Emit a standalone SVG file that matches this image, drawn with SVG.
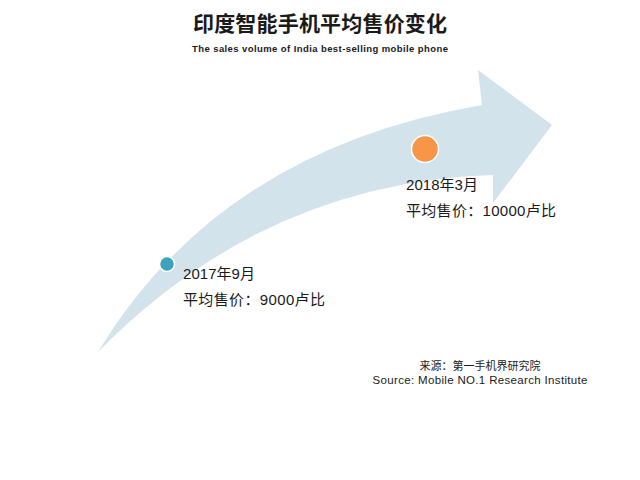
<svg xmlns="http://www.w3.org/2000/svg" width="640" height="480" viewBox="0 0 640 480">
<style>
.t{font-family:"Liberation Sans","Noto Sans CJK SC",sans-serif;fill:#1a1a1a}
.lbl{font-size:15px}
</style>
<rect width="640" height="480" fill="#ffffff"/>
<g id="arrow">
<path d="M98,352 Q220,150 482,105 L478,70 L552,125 L493,203 L493,175 Q265,182 98,352 Z" fill="#d3e3ec"/>
</g>
<g id="title">
<text class="t" x="320" y="31" text-anchor="middle" font-size="21" font-weight="bold" textLength="254">印度智能手机平均售价变化</text>
<text class="t" x="320" y="52" text-anchor="middle" font-size="9.5" font-weight="bold" textLength="256">The sales volume of India best-selling  mobile phone</text>
</g>
<g id="node2017">
<circle cx="167" cy="264" r="7.5" fill="#3ba3bc" stroke="#ffffff" stroke-width="1.5"/>
<text class="t lbl" x="183" y="279" textLength="72">2017年9月</text>
<text class="t lbl" x="183" y="305" textLength="142">平均售价：9000卢比</text>
</g>
<g id="node2018">
<circle cx="425" cy="149" r="13.5" fill="#f79646" stroke="#ffffff" stroke-width="1.5"/>
<text class="t lbl" x="406" y="190" textLength="72">2018年3月</text>
<text class="t lbl" x="406" y="216" textLength="150">平均售价：10000卢比</text>
</g>
<g id="source">
<text class="t" x="480" y="370" text-anchor="middle" font-size="11">来源：第一手机界研究院</text>
<text class="t" x="480" y="384" text-anchor="middle" font-size="11.5" textLength="215">Source: Mobile NO.1 Research Institute</text>
</g>
</svg>
